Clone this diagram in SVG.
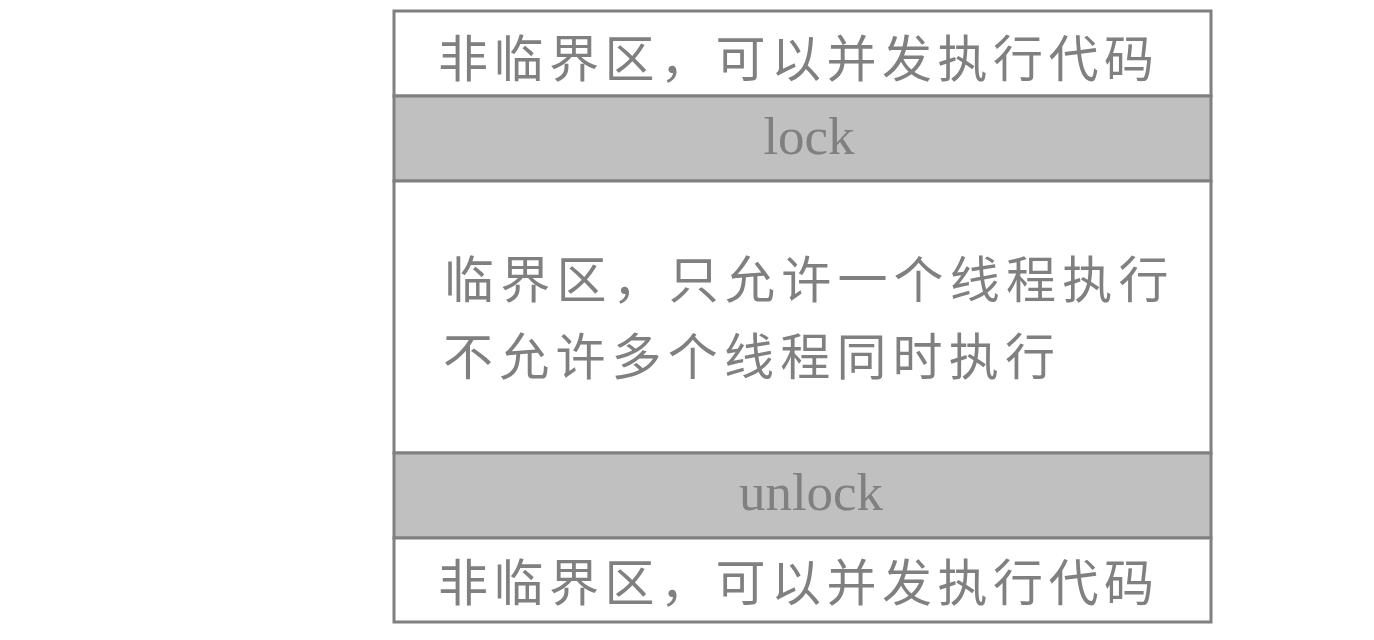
<svg xmlns="http://www.w3.org/2000/svg" width="1374" height="640" viewBox="0 0 1374 640">
<style>
.row{stroke:#808080;stroke-width:3}
.w{fill:#ffffff}
.g{fill:#c0c0c0}
.cjk{font-family:"Noto Sans CJK SC","Noto Sans",sans-serif;font-size:50px;fill:#808080;letter-spacing:5.5px}
.mid{letter-spacing:6.2px}
.en{font-family:"Liberation Serif",serif;font-size:53px;fill:#808080}
</style>
<rect width="1374" height="640" fill="#ffffff"/>
<g id="row-noncritical-top">
<rect class="row w" x="394" y="11" width="817" height="85"/>
<text class="cjk" x="438" y="77">非临界区，可以并发执行代码</text>
</g>
<g id="row-lock">
<rect class="row g" x="394" y="96" width="817" height="85"/>
<text class="en" x="809" y="154" text-anchor="middle">lock</text>
</g>
<g id="row-critical">
<rect class="row w" x="394" y="181" width="817" height="272"/>
<text class="cjk mid" x="444" y="298">临界区，只允许一个线程执行</text>
<text class="cjk mid" x="443" y="375">不允许多个线程同时执行</text>
</g>
<g id="row-unlock">
<rect class="row g" x="394" y="453" width="817" height="85"/>
<text class="en" x="811" y="510" text-anchor="middle">unlock</text>
</g>
<g id="row-noncritical-bottom">
<rect class="row w" x="394" y="538" width="817" height="84"/>
<text class="cjk" x="438" y="601">非临界区，可以并发执行代码</text>
</g>
<g id="connectors"></g>
</svg>
